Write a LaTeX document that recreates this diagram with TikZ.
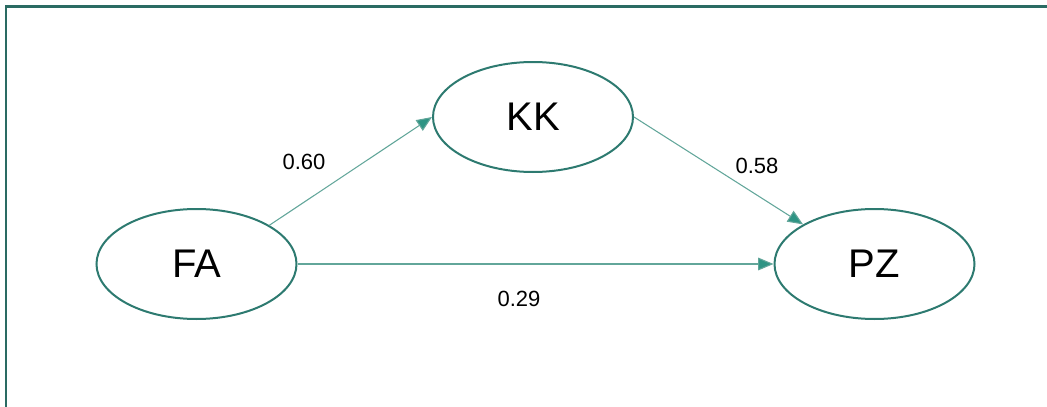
\documentclass[tikz,border=0pt]{standalone}
\usepackage{fontspec}
\setmainfont{Liberation Sans}
\usepackage{tikz}
\usetikzlibrary{arrows.meta}
\usetikzlibrary{shapes}

\definecolor{frameteal}{RGB}{42,107,99}
\definecolor{ringteal}{RGB}{45,122,112}
\definecolor{pathteal}{RGB}{98,166,154}
\definecolor{tipteal}{RGB}{46,148,132}

\tikzset{
  latent/.style={ellipse, draw=ringteal, line width=1.5pt, minimum width=150pt, minimum height=82.5pt, inner sep=0pt, font=\fontsize{30}{32}\selectfont},
  path/.style={draw=pathteal, line width=0.8pt, -{Triangle[length=11.5pt,width=9.5pt,fill=tipteal]}},
  coef/.style={inner sep=0.75pt, font=\fontsize{16.5}{18}\selectfont}
}

\begin{document}
\begin{tikzpicture}[x=0.75pt,y=0.75pt,yscale=-1,xscale=1]
\useasboundingbox (0,0) rectangle (1047,407);

%Straight Lines [frame]
\draw [draw=frameteal, line width=1.6pt]  (6,407) -- (6,6.5) -- (1047,6.5) ;

%Shape: Ellipse
\node [latent] (FA) at (196.5,264) {FA};
%Shape: Ellipse
\node [latent] (KK) at (533,117) {KK};
%Shape: Ellipse
\node [latent] (PZ) at (874.5,264) {PZ};

%Straight Lines
\draw [path]  (FA.28) -- (KK.west) ;
%Straight Lines
\draw [path]  (KK.east) -- (PZ.151) ;
%Straight Lines
\draw [path]  (FA.east) -- (PZ.west) ;

% Text Node
\node [coef] (bFAKK) at (304,162) {0.60};
% Text Node
\node [coef] (bKKPZ) at (757,166) {0.58};
% Text Node
\node [coef] (bFAPZ) at (519,299) {0.29};

\end{tikzpicture}
\end{document}
